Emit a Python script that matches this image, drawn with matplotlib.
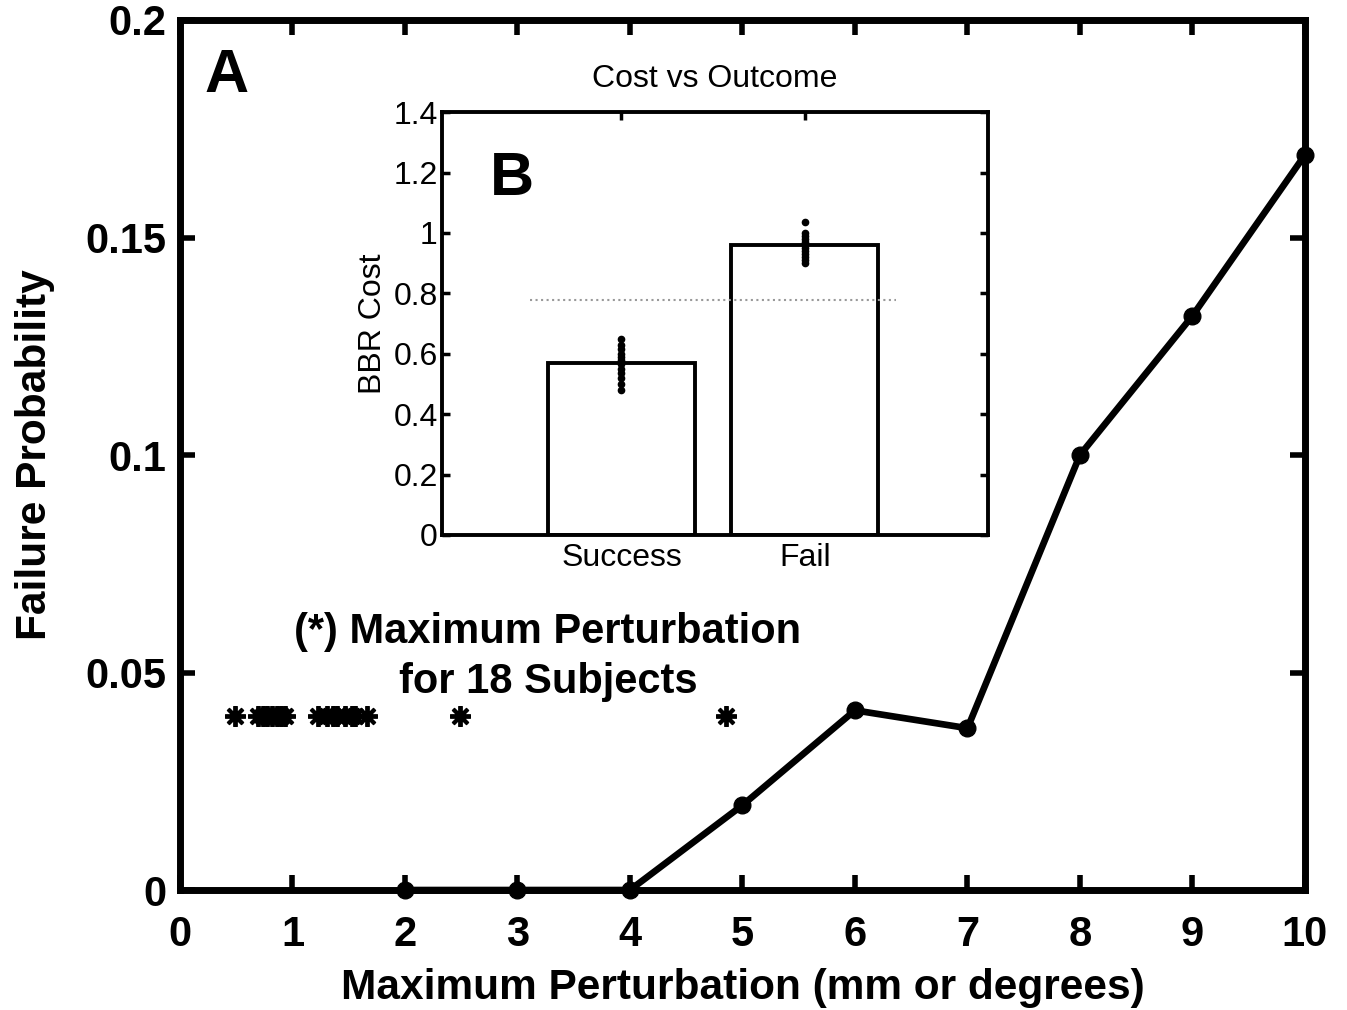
import numpy as np
import matplotlib
matplotlib.use("Agg")
import matplotlib.pyplot as plt

plt.rcParams['font.family'] = ['Liberation Sans', 'DejaVu Sans']

# main panel: failure probability vs perturbation
pert = [2, 3, 4, 5, 6, 7, 8, 9, 10]
fail_prob = [0.0, 0.0, 0.0, 0.0195, 0.0413, 0.0372, 0.1, 0.132, 0.169]

# maximum perturbation reached by each of 18 subjects
subj_max = [0.49, 0.69, 0.74, 0.77, 0.82, 0.86, 0.90, 0.93,
            1.23, 1.31, 1.36, 1.40, 1.47, 1.53, 1.56, 1.66, 2.49, 4.85]
subj_y = 0.04

# inset: cost vs outcome
outcomes = ['Success', 'Fail']
mean_cost = [0.569, 0.960]
success_pts = [0.48, 0.50, 0.52, 0.535, 0.55, 0.565, 0.58, 0.59, 0.60, 0.615, 0.63, 0.65]
fail_pts = [0.90, 0.91, 0.92, 0.93, 0.94, 0.95, 0.96, 0.97, 0.98, 0.99, 1.00, 1.035]
threshold = 0.778

fig = plt.figure(figsize=(13.47, 10.10), dpi=100)
ax = fig.add_axes([0.1336, 0.1188, 0.8352, 0.8614])

ax.plot(pert, fail_prob, '-o', color='black', lw=4.8, ms=12, clip_on=False, zorder=5)
ax.plot(subj_max, [subj_y] * len(subj_max), marker=(8, 2, 0), color='black', ms=15,
        markeredgewidth=2.8, linestyle='none')

ax.set_xlim(0, 10)
ax.set_ylim(0, 0.2)
ax.set_xticks(range(0, 11))
ax.set_yticks([0, 0.05, 0.1, 0.15, 0.2])
ax.set_yticklabels(['0', '0.05', '0.1', '0.15', '0.2'])
ax.tick_params(direction='in', length=11, width=4, top=True, right=True,
               labelsize=30)
ax.tick_params(axis='x', pad=18)
ax.tick_params(axis='y', pad=10)
for lab in ax.get_xticklabels() + ax.get_yticklabels():
    lab.set_fontweight('bold')
for s in ax.spines.values():
    s.set_linewidth(5)

ax.set_xlabel('Maximum Perturbation (mm or degrees)', fontsize=30.5,
              fontweight='bold', labelpad=9)
ax.set_ylabel('Failure Probability', fontsize=30.5, fontweight='bold', labelpad=22)

ax.text(0.22, 0.187, 'A', fontsize=44, fontweight='bold', ha='left', va='center')
ax.text(3.27, 0.0535, '(*) Maximum Perturbation\nfor 18 Subjects', fontsize=30,
        fontweight='bold', ha='center', va='center', linespacing=1.33)

# inset
ins = fig.add_axes([0.328, 0.4703, 0.4055, 0.4187])
ins.bar([1, 2], mean_cost, width=0.8, color='white', edgecolor='black', lw=2.8, zorder=2)
ins.plot([1] * len(success_pts), success_pts, 'o', color='black', ms=4.5, zorder=4)
ins.plot([2] * len(fail_pts), fail_pts, 'o', color='black', ms=4.5, zorder=4)
ins.plot([0.5, 2.5], [threshold, threshold], ':', color='#999999', lw=1.5, zorder=3)

ins.set_xlim(0.02, 3.0)
ins.set_ylim(0, 1.4)
ins.set_xticks([1, 2])
ins.set_xticklabels(outcomes)
ins.set_yticks([0, 0.2, 0.4, 0.6, 0.8, 1.0, 1.2, 1.4])
ins.set_yticklabels(['0', '0.2', '0.4', '0.6', '0.8', '1', '1.2', '1.4'])
ins.tick_params(direction='in', length=6, width=2.5, top=True, right=True,
                labelsize=23, pad=3)
ins.tick_params(axis='x', pad=6)
for s in ins.spines.values():
    s.set_linewidth(2.8)
ins.set_ylabel('BBR Cost', fontsize=23, labelpad=4)
ins.set_title('Cost vs Outcome', fontsize=23, pad=18)
ins.text(0.28, 1.178, 'B', fontsize=44, fontweight='bold', ha='left', va='center')

fig.savefig('out.png', dpi=100, facecolor='white')
